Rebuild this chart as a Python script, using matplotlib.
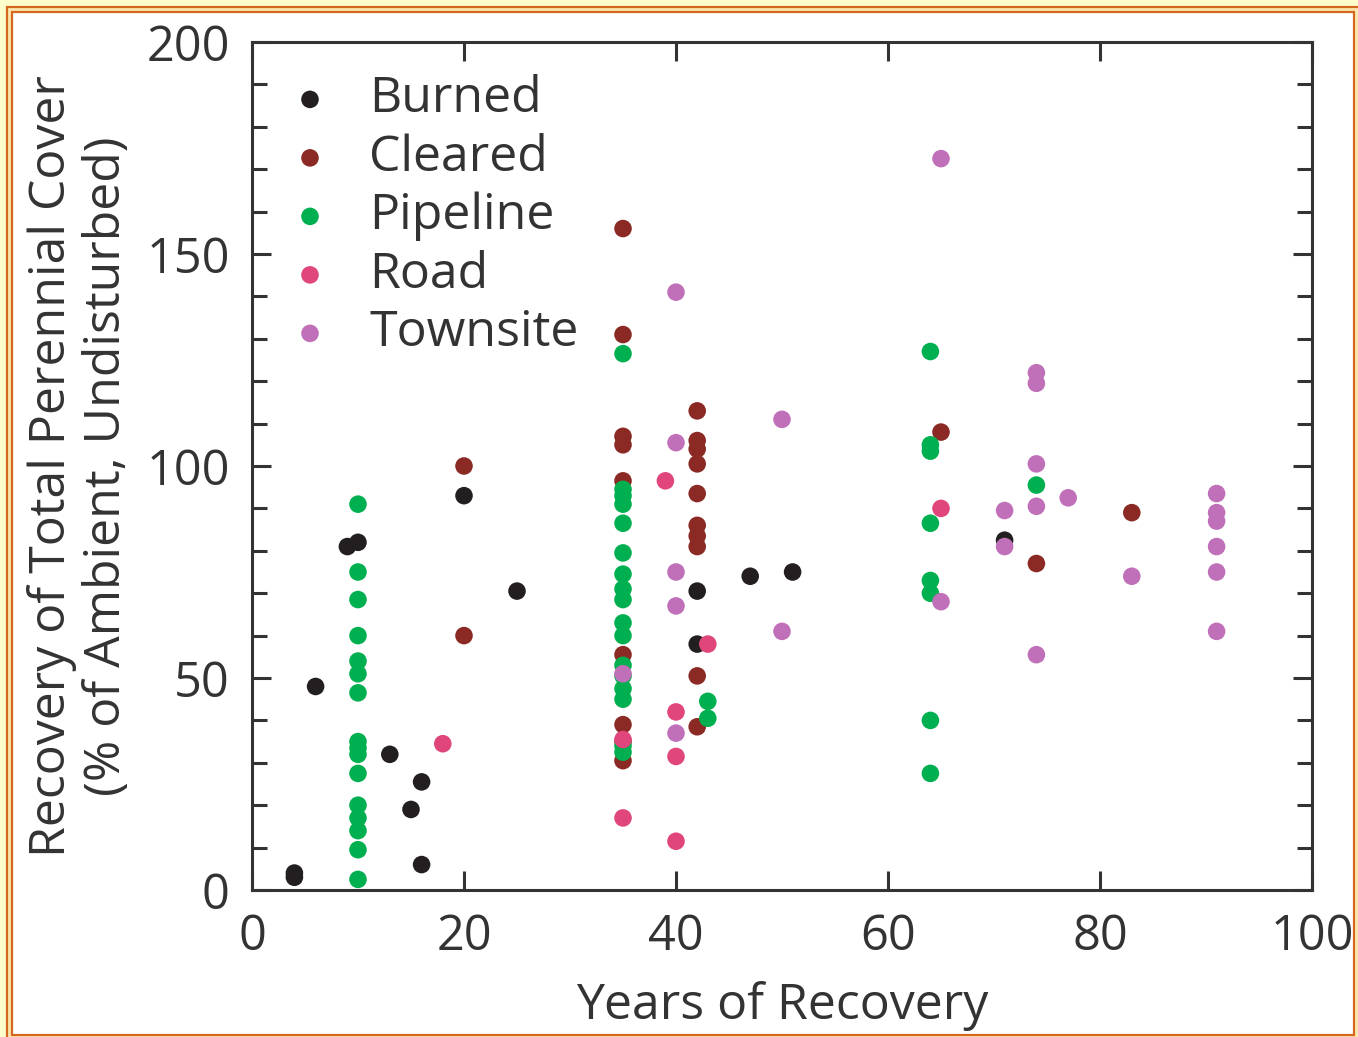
import matplotlib
matplotlib.use('Agg')
import matplotlib.pyplot as plt
from matplotlib.patches import Rectangle
from matplotlib.ticker import MultipleLocator

# data (years, % recovery)
burned_x = [4, 4, 6, 9, 10, 13, 15, 16, 16, 20, 25, 42, 42, 47, 51, 71]
burned_y = [4, 3, 48, 81, 82, 32, 19, 25.5, 6, 93, 70.5, 70.5, 58, 74, 75, 82.5]

cleared_x = [20, 20, 35, 35, 35, 35, 35, 35, 35, 35, 35,
             42, 42, 42, 42, 42, 42, 42, 42, 42, 42, 65, 74, 83]
cleared_y = [100, 60, 156, 131, 107, 105, 96.5, 55.5, 39, 35, 30.5,
             113, 106, 104, 100.5, 93.5, 86, 83.5, 81, 50.5, 38.5, 108, 77, 89]

pipeline_x = [10] * 16 + [35] * 17 + [43, 43] + [64] * 8 + [74]
pipeline_y = [91, 75, 68.5, 60, 54, 51, 46.5, 35, 33.5, 32, 27.5, 20, 17, 14, 9.5, 2.5,
              126.5, 94.5, 93, 91, 86.5, 79.5, 74.5, 71, 68.5, 63, 60, 53, 50.5, 47.5, 45, 34, 32.5,
              44.5, 40.5,
              127, 105, 103.5, 86.5, 73, 70, 40, 27.5,
              95.5]

road_x = [18, 39, 35, 35, 40, 40, 40, 43, 65]
road_y = [34.5, 96.5, 17, 35.5, 42, 31.5, 11.5, 58, 90]

town_x = [65, 40, 40, 40, 40, 35, 40, 50, 50, 65, 71, 71, 74, 74, 74, 74, 74,
          77, 83, 91, 91, 91, 91, 91, 91]
town_y = [172.5, 141, 105.5, 75, 67, 51, 37, 111, 61, 68, 89.5, 81, 122, 119.5, 100.5, 90.5, 55.5,
          92.5, 74, 93.5, 89, 87, 81, 75, 61]

series = [
    ('Burned', burned_x, burned_y, '#231f20'),
    ('Cleared', cleared_x, cleared_y, '#8b2a25'),
    ('Pipeline', pipeline_x, pipeline_y, '#00b050'),
    ('Road', road_x, road_y, '#e0457b'),
    ('Townsite', town_x, town_y, '#c070b8'),
]

plt.rcParams['font.family'] = ['Open Sans', 'DejaVu Sans']
txt = '#333333'

fig = plt.figure(figsize=(13.58, 10.37), dpi=100, facecolor='#ffffcc')

# orange double frame around the panel (pixel coords, drawn behind the axes)
fig.add_artist(Rectangle((7, -20), 1380, 1050, transform=None, zorder=-2,
                         facecolor='#fde6b0', edgecolor='#d2691e', lw=1.6))
fig.add_artist(Rectangle((12, 2), 1342, 1023, transform=None, zorder=-1,
                         facecolor='white', edgecolor='#d2691e', lw=1.6))

ax = fig.add_axes([252 / 1358, 1 - 890 / 1037, (1312 - 252) / 1358, (890 - 42) / 1037])
ax.set_facecolor('none')

for name, xs, ys, c in series:
    ax.scatter(xs, ys, s=160, color=c, edgecolors='none', label=name, zorder=3)

ax.set_xlim(0, 100)
ax.set_ylim(0, 200)
ax.xaxis.set_major_locator(MultipleLocator(20))
ax.yaxis.set_major_locator(MultipleLocator(50))
ax.yaxis.set_minor_locator(MultipleLocator(10))

for s in ax.spines.values():
    s.set_linewidth(2.2)
    s.set_color(txt)

ax.tick_params(which='both', direction='in', top=True, right=True, color=txt,
               width=2.2, labelsize=35, labelcolor=txt, pad=16)
ax.tick_params(which='major', length=14)
ax.tick_params(which='minor', length=11)

ax.set_xlabel('Years of Recovery', fontsize=36, color=txt, labelpad=14)
ax.set_ylabel('Recovery of Total Perennial Cover\n(% of Ambient, Undisturbed)',
              fontsize=36, color=txt, labelpad=10, linespacing=1.15)

leg = ax.legend(loc='upper left', frameon=False, fontsize=36, handlelength=1.0,
                handletextpad=0.68, labelspacing=0.18, borderaxespad=0.26,
                borderpad=0.4, markerscale=1.0, labelcolor=txt)

fig.savefig('out.png', dpi=100, facecolor=fig.get_facecolor())
